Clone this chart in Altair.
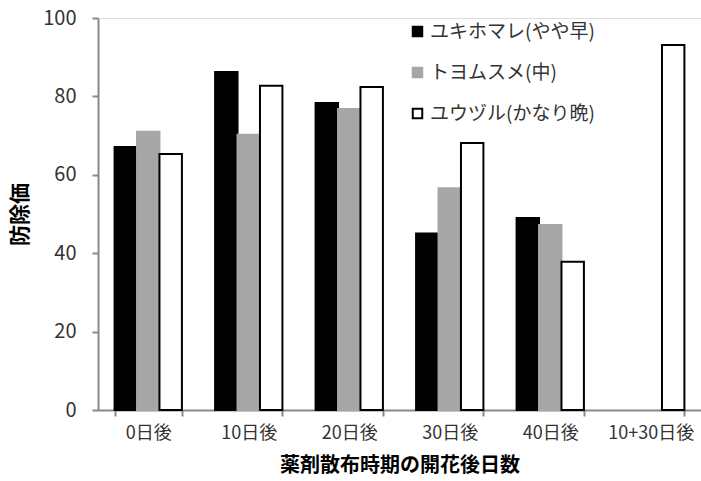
import altair as alt
import pandas as pd

categories = ["0日後", "10日後", "20日後", "30日後", "40日後", "10+30日後"]
series = ["ユキホマレ(やや早)", "トヨムスメ(中)", "ユウヅル(かなり晩)"]
yukihomare = [67.1, 86.2, 78.3, 45.0, 49.0, None]
toyomusume = [71.0, 70.2, 76.8, 56.6, 47.2, None]
yuuzuru = [65.3, 82.7, 82.4, 68.1, 37.8, 93.1]

rows = []
for name, vals in zip(series, [yukihomare, toyomusume, yuuzuru]):
    for c, v in zip(categories, vals):
        if v is not None:
            rows.append({"cat": c, "series": name, "value": v})
df = pd.DataFrame(rows)

FONT = "Noto Sans CJK JP"

legend_opts = dict(title=None, orient="none", legendX=310, legendY=4,
                   symbolType="square", symbolSize=90, symbolStrokeWidth=2,
                   labelFontSize=19, labelFont=FONT, labelColor="#333333",
                   labelLimit=0, rowPadding=21, padding=0, labelOffset=3)

chart = alt.Chart(df).mark_bar(strokeWidth=2).encode(
    x=alt.X("cat:N", sort=categories,
            scale=alt.Scale(paddingInner=0.33, paddingOuter=0.165),
            axis=alt.Axis(title="薬剤散布時期の開花後日数", labelAngle=0,
                          tickBand="extent", tickSize=6, labelPadding=8,
                          labelFontSize=18, labelFont=FONT, labelColor="#333333",
                          titleFontSize=20, titleFont=FONT, titleFontWeight="bold",
                          titleColor="#000000", titlePadding=13,
                          domainColor="#898989", tickColor="#898989",
                          domainWidth=2, tickWidth=2)),
    xOffset=alt.XOffset("series:N", sort=series, scale=alt.Scale(paddingInner=0, paddingOuter=0)),
    y=alt.Y("value:Q", scale=alt.Scale(domain=[0, 100], nice=False),
            axis=alt.Axis(title="防除価", values=[0, 20, 40, 60, 80, 100],
                          grid=False, tickSize=6, labelPadding=16,
                          labelFontSize=20, labelFont=FONT, labelColor="#333333",
                          titleFontSize=21, titleFont=FONT, titleFontWeight="bold",
                          titleColor="#000000", titlePadding=12,
                          domainColor="#898989", tickColor="#898989",
                          domainWidth=2, tickWidth=2)),
    fill=alt.Fill("series:N", sort=series,
                  scale=alt.Scale(domain=series, range=["#000000", "#a6a6a6", "#ffffff"]),
                  legend=alt.Legend(**legend_opts)),
    stroke=alt.Stroke("series:N", sort=series,
                      scale=alt.Scale(domain=series, range=["#000000", "#a6a6a6", "#000000"]),
                      legend=alt.Legend(**legend_opts)),
).properties(
    width=603, height=392,
    autosize=alt.AutoSizeParams(type="none"),
    padding={"left": 98, "top": 18, "right": 0, "bottom": 71},
).configure_view(stroke=None).configure(background="white")

chart.save("out.html", embed_options={"renderer": "svg", "actions": False})
